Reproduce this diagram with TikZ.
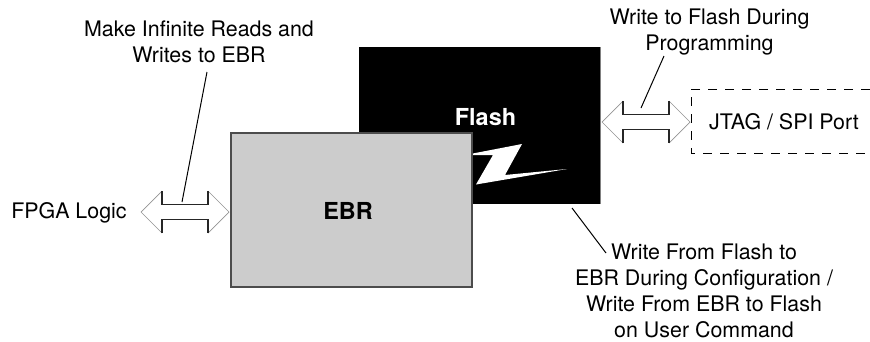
\documentclass[tikz,border=0pt]{standalone}
\usepackage{fontspec}
\setmainfont{TeX Gyre Heros}
\usetikzlibrary{positioning}
\tikzset{
	lbl/.style={inner sep=0pt,anchor=base,align=center,font=\fontsize{21.4}{25.7}\selectfont},
	blk/.style={inner sep=0pt,anchor=base,font=\fontsize{23.4}{28}\selectfont\bfseries},
	lead/.style={line width=1pt,black},
	headln/.style={line width=0.7pt,gray!85},
	shaftln/.style={line width=1.3pt,black!85},
}
\begin{document}
\begin{tikzpicture}[x=1pt,y=-1pt]
	\useasboundingbox (0,0) rectangle (870,341);
	% flash block and its bolt
	\fill [black] (359,47) rectangle (600,204);
	\draw [gray,line width=0.5pt] (600,47) -- (600,204);
	\node [blk,text=white] (flash) at (485.5,125) {Flash};
	\fill [white] (465,155) -- (522,144) -- (505,175) -- (567,169) -- (476,184.5) -- (493,155) -- cycle;
	% ebr block
	\draw [fill=black!20,draw=black!70,line width=1.3pt] (231,133) rectangle (472,287);
	\node [blk] (ebr) at (348,219) {EBR};
	% left arrow
	\begin{scope}[shift={(0,212)}]
	\draw [headln] (162,-21) -- (141,0) -- (162,21);
	\draw [headln] (208,-21) -- (229,0) -- (208,21);
	\draw [shaftln] (162,-21) -- (162,-7.5) -- (208,-7.5) -- (208,-21);
	\draw [shaftln] (162,21) -- (162,7.5) -- (208,7.5) -- (208,21);
	\coordinate (logictop) at (182,-10);
	\end{scope}
	% right arrow
	\begin{scope}[shift={(0,122)}]
	\draw [headln] (623,-21) -- (602,0) -- (623,21);
	\draw [headln] (669,-21) -- (690,0) -- (669,21);
	\draw [shaftln] (623,-21) -- (623,-7.5) -- (669,-7.5) -- (669,-21);
	\draw [shaftln] (623,21) -- (623,7.5) -- (669,7.5) -- (669,21);
	\coordinate (porttop) at (641,-14);
	\end{scope}
	% port box, open on the right
	\draw [line width=0.8pt,dash pattern=on 9pt off 8pt] (870,89) -- (691,89) -- (691,153) -- (870,153);
	\node [lbl] (port) at (784,129) {JTAG / SPI Port};
	\node [lbl] (logic) at (69,218) {FPGA Logic};
	% callouts
	\node [lbl] (reads) at (199,62.3) {Make Infinite Reads and\\Writes to EBR};
	\node [lbl] (prog) at (709.5,50) {Write to Flash During\\Programming};
	\node [lbl] (cfg) at (704,337) {Write From Flash to\\EBR During Configuration /\\Write From EBR to Flash\\on User Command};
	\coordinate (readsend) at (207,72);
	\coordinate (progend) at (664,56);
	\coordinate (cfgstart) at (572,208);
	\coordinate (cfgend) at (606,253);
	\draw [lead] (readsend) -- (logictop);
	\draw [lead] (progend) -- (porttop);
	\draw [lead] (cfgstart) -- (cfgend);
\end{tikzpicture}
\end{document}
